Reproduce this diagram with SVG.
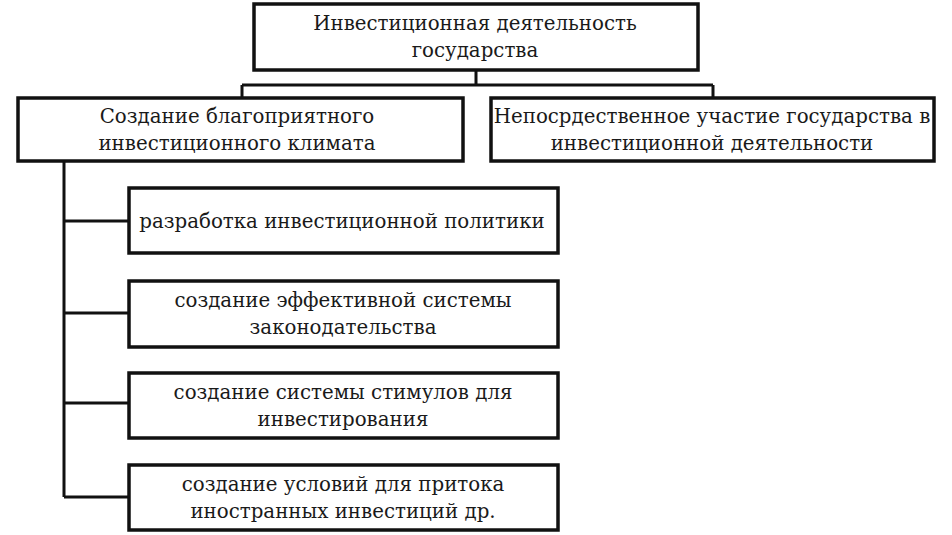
<svg xmlns="http://www.w3.org/2000/svg" width="952" height="535" viewBox="0 0 952 535">
<style>
.box{fill:#fff;stroke:#111;stroke-width:3.5}
.ln{fill:none;stroke:#111;stroke-width:3}
text{font-family:"DejaVu Serif","Liberation Serif","Times New Roman",serif;font-size:19.8px;fill:#1a1a1a;text-anchor:middle}
</style>
<rect width="952" height="535" fill="#fff"/>
<g id="connectors">
<path class="ln" d="M476 70V85M242 85H713M242 85V98M713 85V98"/>
<path class="ln" d="M64 160V497M64 221H129M64 313H129M64 403H129M64 497H129"/>
</g>
<g id="root">
<rect class="box" x="254" y="4" width="444" height="66"/>
<text x="475" y="30">Инвестиционная деятельность</text>
<text x="475" y="57">государства</text>
</g>
<g id="climate">
<rect class="box" x="18" y="98" width="445" height="63"/>
<text x="237" y="123">Создание благоприятного</text>
<text x="237" y="150">инвестиционного климата</text>
</g>
<g id="direct">
<rect class="box" x="491" y="98" width="443" height="63"/>
<text x="712" y="123">Непосрдественное участие государства в</text>
<text x="712" y="150">инвестиционной деятельности</text>
</g>
<g id="policy">
<rect class="box" x="129" y="188" width="429" height="65"/>
<text x="342" y="228">разработка инвестиционной политики</text>
</g>
<g id="law">
<rect class="box" x="129" y="281" width="429" height="66"/>
<text x="343" y="307">создание эффективной системы</text>
<text x="343" y="334">законодательства</text>
</g>
<g id="stimuli">
<rect class="box" x="129" y="373" width="429" height="65"/>
<text x="343" y="399">создание системы стимулов для</text>
<text x="343" y="426">инвестирования</text>
</g>
<g id="foreign">
<rect class="box" x="129" y="465" width="429" height="65"/>
<text x="343" y="491">создание условий для притока</text>
<text x="343" y="518">иностранных инвестиций др.</text>
</g>
</svg>
